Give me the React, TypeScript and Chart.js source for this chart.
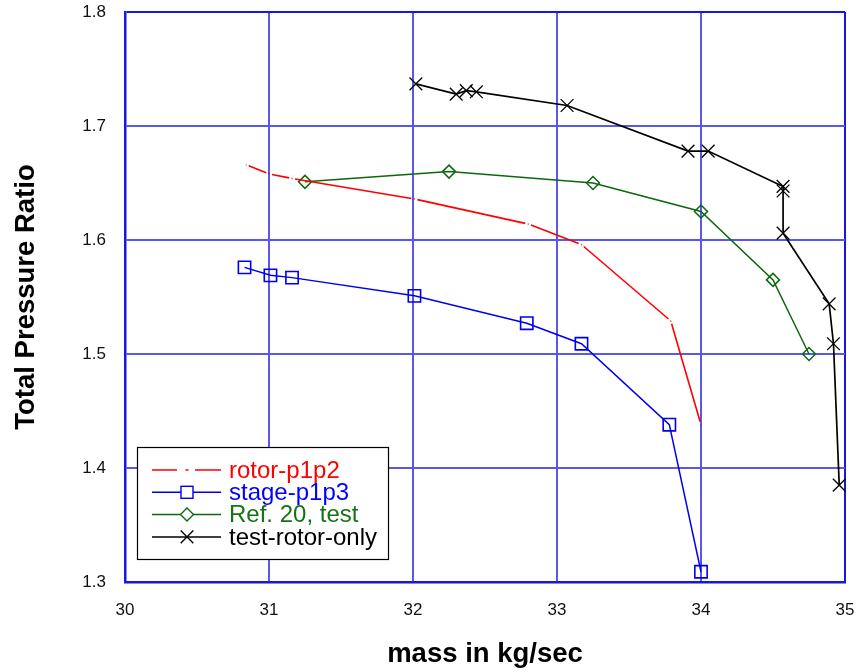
import React, { useEffect, useRef } from 'react';
import { Chart, registerables } from 'chart.js';

Chart.register(...registerables);

// ---- data ----
const xTickValues = [30, 31, 32, 33, 34, 35];
const yTickValues = [1.3, 1.4, 1.5, 1.6, 1.7, 1.8];

const seriesNames = ['rotor-p1p2', 'stage-p1p3', 'Ref. 20, test', 'test-rotor-only'];

const rotorMass = [30.84, 31.0, 31.16, 32.01, 32.8, 33.17, 33.79, 34.0];
const rotorPR = [1.666, 1.658, 1.654, 1.636, 1.614, 1.596, 1.529, 1.438];

const stageMass = [30.83, 31.01, 31.16, 32.01, 32.79, 33.17, 33.78, 34.0];
const stagePR = [1.576, 1.569, 1.567, 1.551, 1.527, 1.509, 1.438, 1.309];

const refMass = [31.25, 32.25, 33.25, 34.0, 34.5, 34.75];
const refPR = [1.651, 1.66, 1.65, 1.625, 1.565, 1.5];

const testMass = [32.02, 32.3, 32.37, 32.44, 33.07, 33.91, 34.05, 34.57, 34.57, 34.57, 34.89, 34.92, 34.96];
const testPR = [1.737, 1.728, 1.731, 1.73, 1.718, 1.678, 1.678, 1.647, 1.643, 1.606, 1.544, 1.509, 1.385];

// ---- styles ----
const RED = '#ff0000';
const BLUE = '#0000ee';
const GREEN = '#0d680d';
const BLACK = '#000000';
const GRID = '#5858ec';
const FRAME = '#1818dc';
const FONT = '"Liberation Sans", Arial, sans-serif';

const toPoints = (xs: number[], ys: number[]) => xs.map((x, i) => ({ x, y: ys[i] }));

const segLen = (c: any) => Math.hypot(c.p1.x - c.p0.x, c.p1.y - c.p0.y);

const legendPlugin = {
  id: 'boxLegend',
  afterDraw(chart: any) {
    const { ctx, chartArea } = chart;
    const bx = chartArea.left + 12;
    const bh = 112;
    const bw = 251;
    const by = chartArea.bottom - 23 - bh;
    ctx.save();
    ctx.fillStyle = '#ffffff';
    ctx.fillRect(bx, by, bw, bh);
    ctx.strokeStyle = '#000000';
    ctx.lineWidth = 1.2;
    ctx.strokeRect(Math.round(bx) + 0.5, Math.round(by) + 0.5, bw, bh);

    const colors = [RED, BLUE, GREEN, BLACK];
    const textColors = [RED, '#0000ff', '#157315', BLACK];
    const x0 = bx + 15;
    const x1 = bx + 84;
    const mx = bx + 50;
    seriesNames.forEach((name, i) => {
      const y = by + 23 + i * 22.3;
      ctx.strokeStyle = colors[i];
      ctx.lineWidth = 1.5;
      ctx.beginPath();
      if (i === 0) {
        ctx.moveTo(x0, y); ctx.lineTo(x0 + 25, y);
        ctx.moveTo(mx - 1.5, y); ctx.lineTo(mx + 1.5, y);
        ctx.moveTo(mx + 8, y); ctx.lineTo(x1, y);
      } else {
        ctx.moveTo(x0, y); ctx.lineTo(x1, y);
      }
      ctx.stroke();
      ctx.lineWidth = 1.4;
      if (i === 1) {
        ctx.fillStyle = '#ffffff';
        ctx.fillRect(mx - 6, y - 6, 12, 12);
        ctx.strokeRect(mx - 6, y - 6, 12, 12);
      } else if (i === 2) {
        ctx.fillStyle = '#ffffff';
        ctx.beginPath();
        ctx.moveTo(mx - 6.5, y); ctx.lineTo(mx, y - 6.5); ctx.lineTo(mx + 6.5, y); ctx.lineTo(mx, y + 6.5);
        ctx.closePath();
        ctx.fill();
        ctx.stroke();
      } else if (i === 3) {
        ctx.beginPath();
        ctx.moveTo(mx - 6.3, y - 6.3); ctx.lineTo(mx + 6.3, y + 6.3);
        ctx.moveTo(mx - 6.3, y + 6.3); ctx.lineTo(mx + 6.3, y - 6.3);
        ctx.stroke();
      }
      ctx.fillStyle = textColors[i];
      ctx.font = `24px ${FONT}`;
      ctx.textBaseline = 'middle';
      ctx.textAlign = 'left';
      ctx.fillText(name, bx + 92, y + 1);
    });
    ctx.restore();
  },
};

export default function App() {
  const canvasRef = useRef<HTMLCanvasElement | null>(null);

  useEffect(() => {
    document.body.style.margin = '0';
    const canvas = canvasRef.current;
    if (!canvas) return;
    const chart = new Chart(canvas, {
      type: 'scatter',
      data: {
        datasets: [
          {
            label: seriesNames[0],
            data: toPoints(rotorMass, rotorPR),
            showLine: true,
            borderColor: RED,
            borderWidth: 1.6,
            pointRadius: 0,
            clip: false,
            segment: {
              borderDash: (c: any) => [1, 2.5, Math.max(segLen(c) - 6, 0.5), 2.5],
              borderDashOffset: () => 0.5,
            },
          },
          {
            label: seriesNames[1],
            data: toPoints(stageMass, stagePR),
            showLine: true,
            borderColor: BLUE,
            borderWidth: 1.5,
            pointStyle: 'rect',
            pointRadius: 8.7,
            pointBorderWidth: 1.6,
            pointBorderColor: BLUE,
            pointBackgroundColor: 'rgba(0,0,0,0)',
            clip: false,
          },
          {
            label: seriesNames[2],
            data: toPoints(refMass, refPR),
            showLine: true,
            borderColor: GREEN,
            borderWidth: 1.5,
            pointStyle: 'rectRot',
            pointRadius: 6.5,
            pointBorderWidth: 1.5,
            pointBorderColor: GREEN,
            pointBackgroundColor: 'rgba(0,0,0,0)',
            clip: false,
          },
          {
            label: seriesNames[3],
            data: toPoints(testMass, testPR),
            showLine: true,
            borderColor: BLACK,
            borderWidth: 1.7,
            pointStyle: 'crossRot',
            pointRadius: 9,
            pointBorderWidth: 1.3,
            pointBorderColor: BLACK,
            clip: false,
          },
        ],
      },
      options: {
        responsive: false,
        devicePixelRatio: 1,
        animation: false,
        layout: { padding: { top: 12, right: 12, left: 0, bottom: 0 } },
        plugins: {
          legend: { display: false },
          tooltip: { enabled: false },
          title: { display: false },
        },
        scales: {
          x: {
            type: 'linear',
            min: 30,
            max: 35,
            afterBuildTicks: (s: any) => { s.ticks = xTickValues.map((v) => ({ value: v })); },
            afterFit: (s: any) => { s.height = 90; s.paddingLeft = 0; s.paddingRight = 0; },
            ticks: {
              padding: 18,
              color: '#111111',
              font: { family: FONT, size: 17 },
              callback: (v: any) => String(v),
              maxRotation: 0,
            },
            grid: {
              drawTicks: false,
              lineWidth: 2,
              color: (c: any) => (c.index === xTickValues.length - 1 ? FRAME : GRID),
            },
            border: { display: true, color: FRAME, width: 2.5 },
            title: {
              display: true,
              text: 'mass in kg/sec',
              color: '#000000',
              font: { family: FONT, size: 27.5, weight: 'bold' },
              padding: { top: 0, bottom: 1 },
            },
          },
          y: {
            type: 'linear',
            min: 1.3,
            max: 1.8,
            afterBuildTicks: (s: any) => { s.ticks = yTickValues.map((v) => ({ value: v })); },
            afterFit: (s: any) => { s.width = 125; s.paddingTop = 0; s.paddingBottom = 0; },
            ticks: {
              padding: 19,
              color: '#111111',
              font: { family: FONT, size: 17 },
              callback: (v: any) => Number(v).toFixed(1),
            },
            grid: {
              drawTicks: false,
              lineWidth: 2,
              color: (c: any) => (c.index === yTickValues.length - 1 ? FRAME : GRID),
            },
            border: { display: true, color: FRAME, width: 2.5 },
            title: {
              display: true,
              text: 'Total Pressure Ratio',
              color: '#000000',
              font: { family: FONT, size: 27.5, weight: 'bold' },
              padding: { top: 10, bottom: 0 },
            },
          },
        },
      },
      plugins: [legendPlugin],
    } as any);
    return () => chart.destroy();
  }, []);

  return (
    <div style={{ position: 'absolute', left: 0, top: 0, width: 857, height: 672 }}>
      <canvas ref={canvasRef} width={857} height={672} style={{ display: 'block' }} />
    </div>
  );
}
